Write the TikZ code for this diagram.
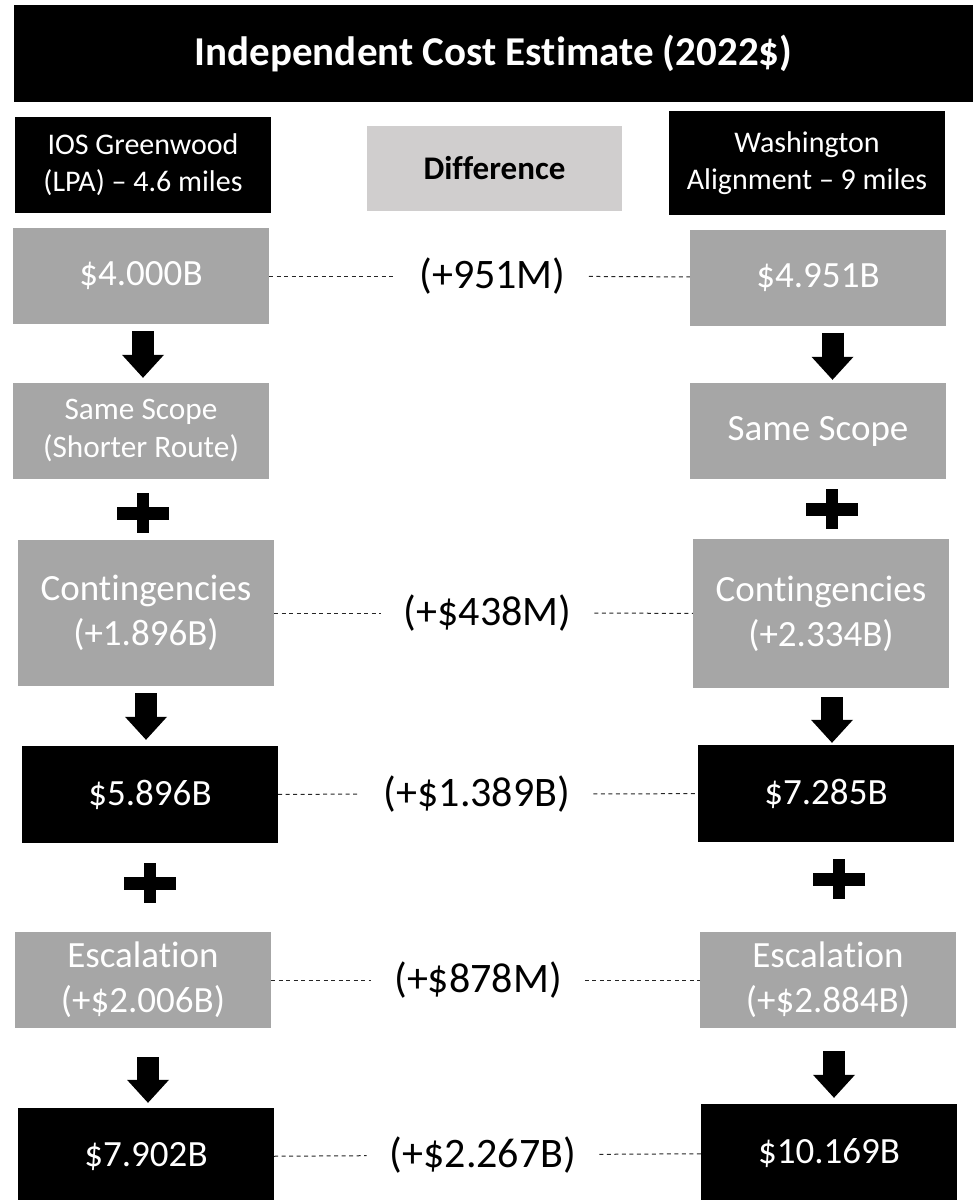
\documentclass[tikz,border=0pt]{standalone}
\usepackage{fontspec}
\setmainfont{Carlito}[Ligatures = {TeX, NoCommon}]
\usepackage{tikz}
\usetikzlibrary{arrows.meta}
\usetikzlibrary{calc}
\definecolor{boxgray}{RGB}{166,166,166}
\definecolor{diffgray}{RGB}{208,206,206}

\begin{document}
\begin{tikzpicture}[
            x = 1pt, y = -1pt, % pixel grid, y runs down
            darrow/.style = {line width = 22pt, -{Triangle[width = 42pt, length = 23pt, line width = 0pt]}},
            dotline/.style = {dash pattern = on 4pt off 3.5pt, line width = 1pt, black!85},
            plussign/.pic = {
                \fill (-26,-6.5) rectangle (26,6.5);
                \fill (-6,-20) rectangle (6,20);
            }
        ]

        \tikzstyle{box}=[
            rectangle,
            fill = boxgray,
            text = white,
            minimum width = 256pt,
            minimum height = 96pt,
            align = center,
            inner sep = 0pt,
            font = \fontsize{37}{45}\selectfont
        ]
        \tikzstyle{total}=[box, fill = black]
        \tikzstyle{head}=[total, font = \fontsize{30}{37}\selectfont]
        \tikzstyle{diff}=[inner xsep = 23pt, inner ysep = 0pt, font = \fontsize{42}{50}\selectfont]

        \path[use as bounding box] (0,0) rectangle (975,1200);
        \clip (0,0) rectangle (975,1200);

	% title and column heads
        \node[total, minimum width = 959pt, minimum height = 97pt, font = \bfseries\fontsize{41}{49}\selectfont] (title) at (493.5,53.5) {Independent Cost Estimate (2022\$)};
        \node[head] (HL) at (143,165) {IOS Greenwood\\(LPA) -- 4.6 miles};
        \node[head, minimum width = 276pt, minimum height = 104pt] (HR) at (807,163) {Washington\\Alignment -- 9 miles};
        \node[box, fill = diffgray, text = black, minimum width = 255pt, minimum height = 85pt, font = \bfseries\fontsize{33}{40}\selectfont] (HD) at (494.5,168.5) {Difference};

        % greenwood column
        \node[box] (L1) at (141,276) {\$4.000B};
        \node[box, font = \fontsize{31.3}{38}\selectfont] (L2) at (141,431) {Same Scope\\(Shorter Route)};
        \node[box, minimum height = 146pt] (L3) at (146,613) {Contingencies\\(+1.896B)};
        \node[total, minimum height = 97pt] (L4) at (150,794.5) {\$5.896B};
        \node[box] (L5) at (143,980) {Escalation\\(+\$2.006B)};
        \node[total, minimum height = 98pt] (L6) at (146,1157) {\$7.902B};

        % washington column
        \node[box] (R1) at (818,277.5) {\$4.951B};
        \node[box] (R2) at (818,431) {Same Scope};
        \node[box, minimum height = 149pt] (R3) at (821,613.5) {Contingencies\\(+2.334B)};
        \node[total, minimum height = 97pt] (R4) at (826,793.5) {\$7.285B};
        \node[box] (R5) at (828,980) {Escalation\\(+\$2.884B)};
        \node[total, minimum height = 98pt] (R6) at (829,1153) {\$10.169B};

        % differences
        \node[diff] (D1) at (492.5,276) {(+951M)};
        \node[diff] (D3) at (487.5,613) {(+\$438M)};
        \node[diff] (D4) at (477,794) {(+\$1.389B)};
        \node[diff] (D5) at (478,980) {(+\$878M)};
        \node[diff] (D6) at (483,1155) {(+\$2.267B)};

        \foreach \l/\d/\r in {L1/D1/R1, L3/D3/R3, L4/D4/R4, L5/D5/R5, L6/D6/R6} {
            \draw[dotline] (\l) -- (\d);
            \draw[dotline] (\d) -- (\r);
        }

        % block arrows
        \foreach \a/\b/\dx/\s/\e in {L1/L2/2/7/5, L3/L4/0/7/6, L5/L6/5/29/5, R1/R2/14.5/7/3, R3/R4/11/9/2, R5/R6/6/23/6}
            \draw[darrow] ($(\a.south)+(\dx,\s)$) -- ($(\a.south |- \b.north)+(\dx,-\e)$);

        % plus signs
        \foreach \p in {(143,513), (150,883), (832,509), (839,879)}
            \pic at \p {plussign};

\end{tikzpicture}
\end{document}
